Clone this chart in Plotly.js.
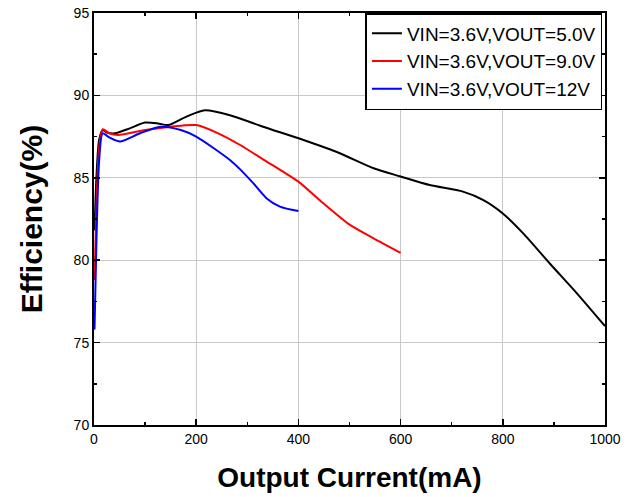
<!DOCTYPE html>
<html>
<head>
<meta charset="utf-8">
<script src="https://cdn.plot.ly/plotly-3.0.1.min.js"></script>
<style>html,body{margin:0;padding:0;background:#fff;}#chart{width:635px;height:497px;}</style>
</head>
<body>
<div id="chart"></div>
<script>
const names = ["VIN=3.6V,VOUT=5.0V", "VIN=3.6V,VOUT=9.0V", "VIN=3.6V,VOUT=12V"];
const colors = ["#000000", "#ff0000", "#0000ff"];

const x5v = [1, 5, 10, 17, 25, 41, 70, 100, 125, 145, 180, 217, 266, 331, 410, 481, 547, 600, 657, 722, 762, 800, 840, 892, 945, 1000];
const y5v = [81.8, 85.2, 87.3, 87.9, 87.75, 87.7, 88.0, 88.35, 88.3, 88.2, 88.7, 89.1, 88.8, 88.1, 87.29, 86.49, 85.58, 85.08, 84.56, 84.16, 83.65, 82.84, 81.63, 79.8, 77.99, 76.0];

const x9v = [1, 5, 10, 17, 30, 47, 100, 150, 200, 243, 286, 338, 370, 400, 449, 501, 547, 600];
const y9v = [78.8, 83.5, 86.8, 87.95, 87.7, 87.6, 87.9, 88.1, 88.2, 87.7, 86.99, 85.98, 85.37, 84.77, 83.45, 82.14, 81.33, 80.45];

const x12v = [1, 5, 10, 17, 30, 51, 90, 130, 170, 200, 266, 286, 312, 338, 364, 400];
const y12v = [75.8, 81.5, 86.0, 87.7, 87.45, 87.2, 87.7, 88.1, 87.9, 87.5, 86.08, 85.51, 84.66, 83.75, 83.25, 82.98];

const xs = [x5v, x9v, x12v];
const ys = [y5v, y9v, y12v];

const traces = xs.map((x, i) => ({
  x: x, y: ys[i], name: names[i], type: 'scatter', mode: 'lines',
  line: {color: colors[i], width: 2, shape: 'spline', smoothing: 0.7}
}));

const FONT = 'Liberation Sans, Arial, sans-serif';
const tickFont = {family: FONT, size: 14, color: '#000'};
const layout = {
  width: 635, height: 497,
  margin: {l: 94, r: 30, t: 13, b: 72},
  paper_bgcolor: '#fff', plot_bgcolor: '#fff',
  showlegend: true,
  legend: {
    x: 0.995, y: 1.0, xanchor: 'right', yanchor: 'top',
    bgcolor: '#fff', bordercolor: '#000', borderwidth: 1.5,
    font: {family: FONT, size: 19, color: '#000'},
    tracegroupgap: 0
  },
  xaxis: {
    range: [0, 1000], tickvals: [0, 200, 400, 600, 800, 1000],
    ticks: 'inside', ticklen: 6, tickwidth: 1.5, tickcolor: '#000',
    minor: {dtick: 100, tick0: 0, ticks: 'inside', ticklen: 3, tickcolor: '#000', showgrid: false},
    showline: true, linecolor: '#000', linewidth: 2, mirror: 'ticks',
    showgrid: true, gridcolor: '#c8c8c8', gridwidth: 1,
    zeroline: false, tickfont: tickFont,
    title: {text: 'Output Current(mA)', font: {family: FONT, size: 28, color: '#000', weight: 'bold'}, standoff: 22}
  },
  yaxis: {
    range: [70, 95], tickvals: [70, 75, 80, 85, 90, 95],
    ticks: 'inside', ticklen: 6, tickwidth: 1.5, tickcolor: '#000',
    minor: {dtick: 2.5, tick0: 70, ticks: 'inside', ticklen: 3, tickcolor: '#000', showgrid: false},
    showline: true, linecolor: '#000', linewidth: 2, mirror: 'ticks',
    showgrid: true, gridcolor: '#c8c8c8', gridwidth: 1,
    zeroline: false, tickfont: tickFont,
    title: {text: 'Efficiency(%)', font: {family: FONT, size: 30, color: '#000', weight: 'bold'}, standoff: 22}
  }
};

Plotly.newPlot('chart', traces, layout, {displayModeBar: false, staticPlot: true});
</script>
</body>
</html>
